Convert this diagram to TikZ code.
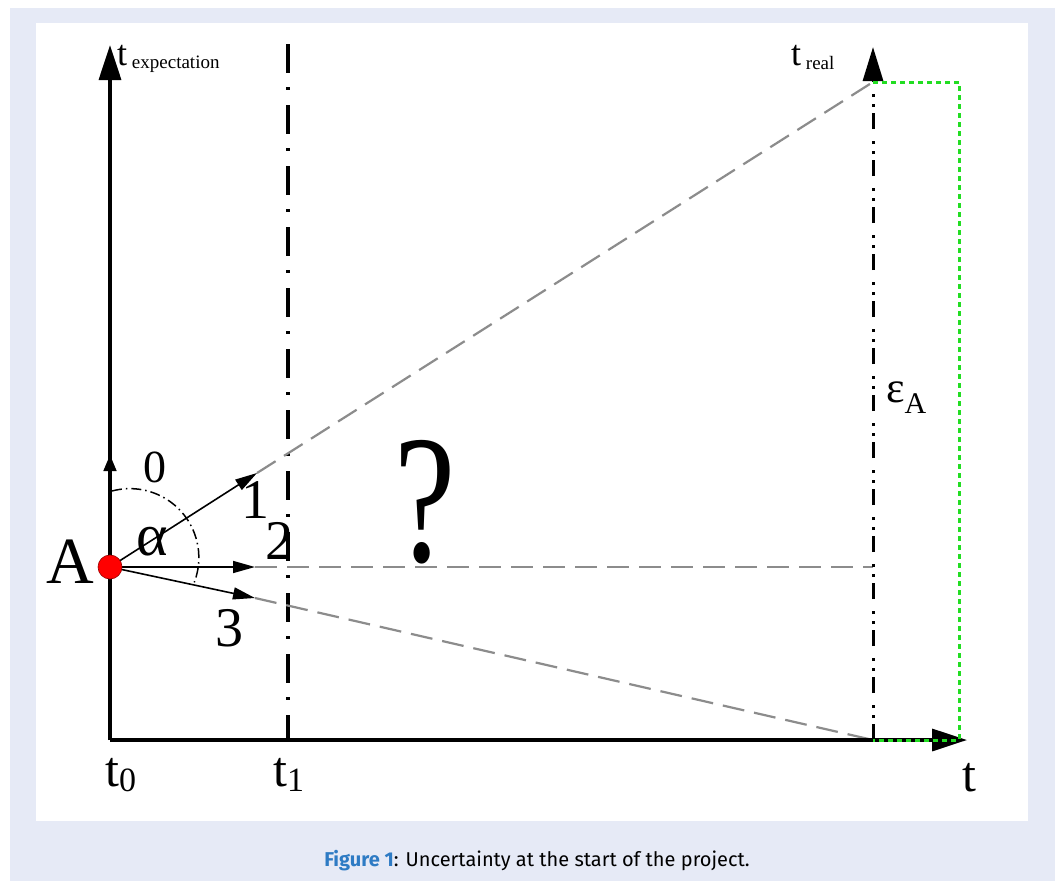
\documentclass[tikz,border=0pt]{standalone}
\usepackage{fontspec}
\setmainfont{Liberation Serif}
\newfontfamily\capfont{Fira Sans}
\usetikzlibrary{arrows.meta}
\definecolor{framebg}{HTML}{E6EAF6}
\definecolor{capblue}{HTML}{2E7BC4}
\definecolor{dashgray}{HTML}{8C8C8C}
\definecolor{dotgreen}{HTML}{22DD22}
\newcommand{\fs}[1]{\fontsize{#1}{#1}\selectfont}
\tikzset{
  axisline/.style={line width=3.4pt, black},
  bigtip/.style={-{Triangle[length=35pt,width=22pt]}},
  dashdotline/.style={line width=3.2pt, dash pattern=on 29pt off 14pt on 3pt off 15pt},
  dashdotdotline/.style={line width=3pt, dash pattern=on 16pt off 6pt on 3pt off 7pt on 3pt off 12pt},
  grayline/.style={dashgray, line width=2.2pt, dash pattern=on 22pt off 10pt},
  greenline/.style={dotgreen, line width=3pt, dash pattern=on 5pt off 4pt},
  vecarrow/.style={line width=1.6pt, -{Triangle[length=22pt,width=12pt]}},
  lbl/.style={inner sep=0pt, text=black},
}
\begin{document}
\begin{tikzpicture}[x=1pt,y=-1pt]
\useasboundingbox (0,0) rectangle (1058,881);
% frame
\fill[framebg] (10,8) rectangle (1055,881);
\fill[white] (36,23) rectangle (1028,821);
% coordinates
\coordinate (A) at (110,567);
\coordinate (O) at (110,740);
\coordinate (Ytop) at (110,45);
\coordinate (Xend) at (967,740);
\coordinate (Zero) at (110,455);
\coordinate (P1) at (257,473);
\coordinate (P2) at (255,567);
\coordinate (P3) at (255,598);
\coordinate (T1top) at (288,44);
\coordinate (T1bot) at (288,740);
\coordinate (R) at (873,82);
\coordinate (Rtip) at (873,47);
\coordinate (R0) at (873,740);
\coordinate (G1) at (959,82);
\coordinate (G2) at (959,740);
\coordinate (ArcStart) at (112,491);
% dash-dot line at t1
\draw[dashdotline] (T1top) -- (T1bot);
% gray dashed extensions
\draw[grayline] (P1) -- (R);
\draw[grayline] (P2) -- (873,567);
\draw[grayline] (P3) -- (R0);
% axes
\draw[axisline, bigtip] (O) -- (Ytop);
\draw[axisline, bigtip] (O) -- (Xend);
% t real line
\draw[dashdotdotline, -{Triangle[length=34pt,width=20pt]}] (R0) -- (Rtip);
% green rectangle
\draw[greenline] (R) -- (G1) -- (G2) -- (R0);
% angle arc
\draw[line width=1.5pt, dash pattern=on 10pt off 4pt on 1.5pt off 4pt] (ArcStart) arc[start angle=-105, end angle=21, radius=69];
% vectors
\draw[line width=1.6pt, -{Triangle[length=16pt,width=13pt]}] (A) -- (Zero);
\draw[vecarrow] (A) -- (P1);
\draw[vecarrow] (A) -- (P2);
\draw[vecarrow] (A) -- (P3);
% point A
\node[circle, fill=red, draw=red!60!black, line width=0.6pt, minimum size=24pt, inner sep=0pt] (Adot) at (A) {};
% labels
\node[lbl, font=\fs{66}] (Alab) at (70,562) {A};
\node[lbl, font=\fs{46}] (L0) at (155,467) {0};
\node[lbl, font=\fs{56}] (L1) at (255,500) {1};
\node[lbl, font=\fs{56}] (L2) at (279,541) {2};
\node[lbl, font=\fs{56}] (L3) at (229,628) {3};
\node[lbl, font=\fs{60}] (Lalpha) at (152,542) {α};
\node[lbl, font=\fs{150}] (Q) at (425,502) {\scalebox{0.92}[1.22]{?}};
\node[lbl, anchor=base west] (Lexp) at (117,65) {\fs{36}t\raisebox{-3pt}{\fs{19} expectation}};
\node[lbl, anchor=base west] (Lreal) at (791,65) {\fs{36}t\raisebox{-4pt}{\fs{19} real}};
\node[lbl, anchor=base west] (Leps) at (886,402) {\fs{44}ε\raisebox{-11pt}{\fs{30}A}};
\node[lbl, anchor=base west] (Lt0) at (105,786) {\fs{50}t\raisebox{-5pt}{\fs{34}0}};
\node[lbl, anchor=base west] (Lt1) at (273,786) {\fs{50}t\raisebox{-5pt}{\fs{34}1}};
\node[lbl, anchor=base west] (Lt) at (962,791) {\fs{50}t};
% caption
\node[lbl, anchor=base] (cap) at (537,866) {\capfont\fs{20}\textcolor{capblue}{\bfseries Figure 1}: Uncertainty at the start of the project.};
\end{tikzpicture}
\end{document}
